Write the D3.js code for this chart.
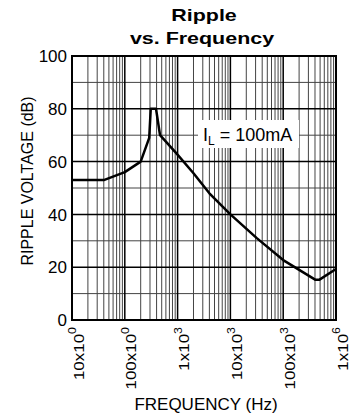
<!DOCTYPE html>
<html>
<head>
<meta charset="utf-8">
<script src="https://cdn.jsdelivr.net/npm/d3@7"></script>
<style>
  body { margin: 0; background: #fff; }
  text { font-family: "Liberation Sans", Arial, sans-serif; fill: #000; }
</style>
</head>
<body>
<div id="chart"></div>
<script>
const freq = [10, 40, 100, 200, 290, 310, 390, 465, 960, 2000, 4000, 10000, 31600, 100000, 410000, 480000, 1000000]
const ripple = [53, 53, 56, 60, 69, 80, 80, 70, 63, 55.6, 48, 40, 31, 22.7, 15.2, 15.2, 19.3]
const yTicks = [0, 20, 40, 60, 80, 100]
const xTickValues = [10, 100, 1e3, 1e4, 1e5, 1e6]
const xTickBase = ["10x10", "100x10", "1x10", "10x10", "100x10", "1x10"]
const xTickExp = ["0", "0", "3", "3", "3", "6"]

const width = 359, height = 419
const plotL = 72, plotR = 336, plotT = 56, plotB = 320

const x = d3.scaleLog().domain([10, 1e6]).range([plotL, plotR])
const y = d3.scaleLinear().domain([0, 100]).range([plotB, plotT])

const svg = d3.select("#chart").append("svg")
  .attr("width", width)
  .attr("height", height)

// minor vertical grid (2..9 in each decade)
const minorX = []
for (let d = 10; d < 1e6; d *= 10) {
  for (let k = 2; k <= 9; k++) minorX.push(d * k)
}
svg.append("g").selectAll("line").data(minorX).join("line")
  .attr("x1", d => x(d)).attr("x2", d => x(d))
  .attr("y1", plotT).attr("y2", plotB)
  .attr("stroke", "#444").attr("stroke-width", 1)

// horizontal grid
svg.append("g").selectAll("line").data(d3.range(10, 100, 10)).join("line")
  .attr("x1", plotL).attr("x2", plotR)
  .attr("y1", d => y(d)).attr("y2", d => y(d))
  .attr("stroke", d => d % 20 === 0 ? "#000" : "#444")
  .attr("stroke-width", d => d % 20 === 0 ? 1.5 : 1)

// decade lines
svg.append("g").selectAll("line").data(xTickValues.slice(1, -1)).join("line")
  .attr("x1", d => x(d)).attr("x2", d => x(d))
  .attr("y1", plotT).attr("y2", plotB)
  .attr("stroke", "#000").attr("stroke-width", 1.5)

// label box
const lbl = svg.append("g")
lbl.append("rect")
  .attr("x", 198).attr("y", 120).attr("width", 101).attr("height", 28)
  .attr("fill", "#fff")
const lt = lbl.append("text")
  .attr("x", 203).attr("y", 141)
  .attr("font-size", 18)
lt.append("tspan").text("I")
lt.append("tspan").attr("font-size", 12).attr("dy", 4).text("L")
lt.append("tspan").attr("dy", -4).text(" = 100mA")

// frame
svg.append("rect")
  .attr("x", plotL).attr("y", plotT)
  .attr("width", plotR - plotL).attr("height", plotB - plotT)
  .attr("fill", "none").attr("stroke", "#000").attr("stroke-width", 2)

// curve
const line = d3.line()
  .x((d, i) => x(freq[i]))
  .y(d => y(d))
svg.append("path")
  .datum(ripple)
  .attr("d", line)
  .attr("fill", "none")
  .attr("stroke", "#000")
  .attr("stroke-width", 2.5)
  .attr("stroke-linejoin", "round")

// y tick labels
svg.append("g").selectAll("text").data(yTicks).join("text")
  .attr("x", 67).attr("y", d => y(d))
  .attr("dy", "0.36em")
  .attr("text-anchor", "end")
  .attr("font-size", 17)
  .text(d => d)

// x tick labels (rotated, slightly stretched along reading direction)
const xl = svg.append("g").selectAll("text").data(xTickValues).join("text")
  .attr("transform", d => `translate(${x(d) + 11.5},327) rotate(-90) scale(1.13,1)`)
  .attr("text-anchor", "end")
  .attr("font-size", 15)
xl.append("tspan").text((d, i) => xTickBase[i])
xl.append("tspan").attr("font-size", 11).attr("dy", "-0.65em").text((d, i) => xTickExp[i])

// axis titles
svg.append("text")
  .attr("transform", `translate(33,181) rotate(-90)`)
  .attr("text-anchor", "middle")
  .attr("font-size", 16)
  .text("RIPPLE VOLTAGE (dB)")
svg.append("text")
  .attr("x", 206).attr("y", 410)
  .attr("text-anchor", "middle")
  .attr("font-size", 17)
  .text("FREQUENCY (Hz)")

// title (wide lettering)
svg.append("text")
  .attr("transform", "translate(204,21) scale(1.3,1)")
  .attr("text-anchor", "middle")
  .attr("font-size", 16.5).attr("font-weight", "bold")
  .text("Ripple")
svg.append("text")
  .attr("transform", "translate(202,43.5) scale(1.3,1)")
  .attr("text-anchor", "middle")
  .attr("font-size", 16.5).attr("font-weight", "bold")
  .text("vs. Frequency")
</script>
</body>
</html>
